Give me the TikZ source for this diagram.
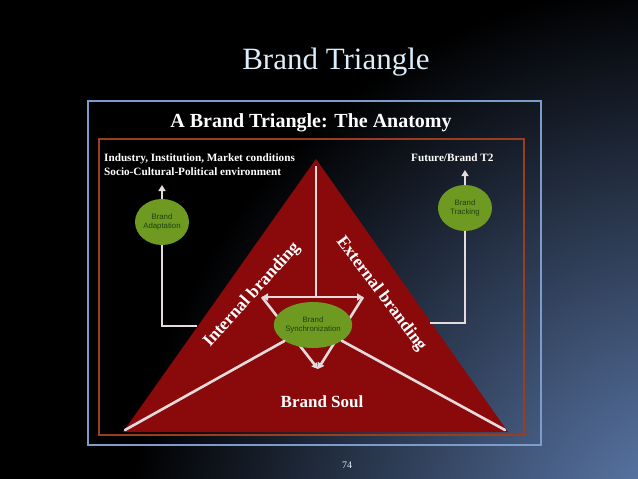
\documentclass[tikz,border=0pt]{standalone}
\usepackage{fontspec}
\setmainfont{Liberation Serif}
\setsansfont{Liberation Sans}
\usetikzlibrary{arrows.meta,shapes.geometric}
\definecolor{bgblue}{HTML}{6484BA}
\definecolor{framecol}{HTML}{7C9CCC}
\definecolor{rustcol}{HTML}{9A3E22}
\definecolor{tri}{HTML}{8A0A0C}
\definecolor{wline}{HTML}{E4DCDC}
\definecolor{gball}{HTML}{6E9A22}
\definecolor{gtext}{HTML}{1C4410}
\definecolor{titlecol}{HTML}{DCEEFA}
\tikzset{
  ball/.style={ellipse, fill=gball, inner sep=0pt, minimum width=54pt, minimum height=46pt,
    font=\sffamily\fontsize{7.8}{8.8}\selectfont, text=gtext, align=center},
  wl/.style={draw=wline, line width=2.6pt},
  wa/.style={wl, -{Triangle[length=6pt,width=7pt]}},
  lbl/.style={text=white, font=\bfseries\fontsize{11.2}{13.5}\selectfont, align=left, inner sep=0pt},
  edge/.style={text=white, font=\bfseries\fontsize{17.5}{20}\selectfont, inner sep=0pt}
}
\begin{document}
\begin{tikzpicture}[x=1pt,y=-1pt]
\useasboundingbox (0,0) rectangle (638,479);
% slide background
\fill[black] (0,0) rectangle (638,479);
\begin{scope}
\clip (0,0) rectangle (638,479);
\shade[inner color=bgblue, outer color=black] (690,540) circle (560pt);
\end{scope}
% title
\node[text=titlecol, font=\fontsize{31}{34}\selectfont, inner sep=0pt] (title) at (336,62) {Brand Triangle};
% inner panel
\draw[framecol, line width=2pt] (88,101) rectangle (541,445);
\node[text=white, font=\bfseries\fontsize{20}{22}\selectfont, inner sep=0pt] (ptitle) at (311,123) {A Brand Triangle: The Anatomy};
\draw[rustcol, line width=1.6pt] (99,139) rectangle (524,435);
% triangle
\coordinate (apex) at (316,159);
\coordinate (BL) at (123,432);
\coordinate (BR) at (508,432);
\fill[tri] (apex) -- (BL) -- (BR) -- cycle;
% top labels
\node[lbl, anchor=north west] (env) at (104,154) {Industry, Institution, Market conditions\\Socio-Cultural-Political environment};
\node[lbl, anchor=north west] (fut) at (411,154) {Future/Brand T2};
% side balls
\node[ball] (adapt) at (162,222) {Brand\\Adaptation};
\node[ball] (track) at (465,208) {Brand\\Tracking};
\draw[wa] (adapt.north) -- (162,185);
\draw[wa] (track.north) -- (465,170);
\coordinate (lj) at (197,326);
\coordinate (rj) at (430,323);
\draw[wl] (adapt.south) |- (lj);
\draw[wl] (track.south) |- (rj);
% inner arrows
\coordinate (vt) at (316,166);
\coordinate (vm) at (316,297);
\coordinate (cl) at (262,297);
\coordinate (cr) at (363,297);
\coordinate (cb) at (318,369);
\draw[wl] (vt) -- (vm);
\draw[wa] (vm) -- (cl);
\draw[wa] (vm) -- (cr);
\draw[wa] (cl) -- (cb);
\draw[wa] (cr) -- (cb);
\node[ball] (sync) at (313,325) {Brand\\Synchronization};
\draw[wl, line cap=round] (sync) -- (125,430);
\draw[wl, line cap=round] (sync) -- (505,430);
% edge labels
\node[edge, rotate=48] (intb) at (252,295) {Internal branding};
\node[edge, rotate=-53] (extb) at (381,294) {External branding};
\node[text=white, font=\bfseries\fontsize{17}{20}\selectfont, inner sep=0pt] (soul) at (322,402) {Brand Soul};
% page number
\node[text=titlecol, font=\fontsize{10}{12}\selectfont, inner sep=0pt] (pg) at (347,465) {74};
\end{tikzpicture}
\end{document}
